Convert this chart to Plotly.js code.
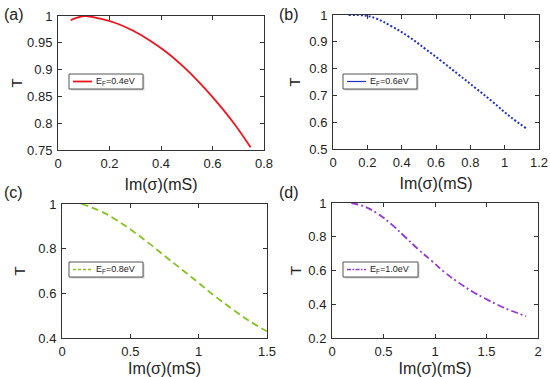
<!DOCTYPE html>
<html>
<head>
<meta charset="utf-8">
<script src="https://cdn.plot.ly/plotly-3.0.1.min.js"></script>
<style>html,body{margin:0;padding:0;background:#fff;}#chart{width:550px;height:377px;}</style>
</head>
<body>
<div id="chart"></div>
<script>
// ---- data ----
const aX = [0.049, 0.075, 0.105, 0.164, 0.229, 0.294, 0.358, 0.423, 0.488, 0.553, 0.618, 0.683, 0.748];
const aY = [0.992, 0.997, 1.000, 0.995, 0.986, 0.972, 0.954, 0.932, 0.905, 0.874, 0.839, 0.800, 0.755];

const bX = [0.091, 0.189, 0.247, 0.344, 0.441, 0.539, 0.636, 0.733, 0.831, 0.928, 1.025, 1.128];
const bY = [1.000, 0.9975, 0.988, 0.957, 0.919, 0.873, 0.826, 0.777, 0.727, 0.677, 0.624, 0.576];

const cX = [0.142, 0.264, 0.386, 0.508, 0.630, 0.752, 0.874, 0.997, 1.119, 1.241, 1.363, 1.500];
const cY = [1.000, 0.973, 0.933, 0.883, 0.827, 0.767, 0.708, 0.648, 0.587, 0.532, 0.479, 0.430];

const dX = [0.188, 0.318, 0.448, 0.578, 0.708, 0.838, 0.968, 1.097, 1.227, 1.357, 1.487, 1.617, 1.747, 1.886];
const dY = [1.000, 0.978, 0.935, 0.873, 0.800, 0.725, 0.657, 0.588, 0.529, 0.477, 0.434, 0.394, 0.360, 0.329];

const seriesNames = ["E<sub>F</sub>=0.4eV", "E<sub>F</sub>=0.6eV", "E<sub>F</sub>=0.8eV", "E<sub>F</sub>=1.0eV"];
const panelLabels = ["(a)", "(b)", "(c)", "(d)"];
const xTitle = "Im(σ)(mS)";
const yTitle = "T";

// ---- styling ----
const W = 550, H = 377;
const FONT = "Liberation Sans, Arial, sans-serif";
const colors = ["#f0141e", "#1f2fc4", "#84c21e", "#9236e0"];
const dashes = ["solid", "2px,2px", "7px,4px", "7px,3px,2px,3px"];
const widths = [1.8, 2, 1.8, 1.8];
const legendDashes = ["solid", "solid", "3px,2px", "4px,1.5px,1.5px,1.5px"];
const legendWidths = [1.8, 1.2, 1.6, 1.6];

const px = v => v / W;
const py = v => 1 - v / H;

// plot boxes in pixels [left, right, top, bottom]
const boxes = [
  [58, 264, 16, 150],
  [333, 539, 15, 149],
  [62, 267, 204, 338],
  [332, 538, 203, 338]
];
const xRanges = [[0, 0.8], [0, 1.2], [0, 1.5], [0, 2]];
const yRanges = [[0.75, 1], [0.5, 1], [0.4, 1], [0.2, 1]];
const xDtick = [0.2, 0.2, 0.5, 0.5];
const yDtick = [0.05, 0.1, 0.2, 0.2];
const yStandoff = [0, 5, 9, 3];
const legendBoxes = [
  [69, 143, 74, 89],
  [343, 417, 74, 89],
  [69, 143, 262, 277],
  [343, 418, 262, 277]
];

const xs = [aX, bX, cX, dX];
const ys = [aY, bY, cY, dY];

const traces = [];
const layout = {
  width: W, height: H,
  margin: {l: 0, r: 0, t: 0, b: 0},
  paper_bgcolor: "#fff", plot_bgcolor: "#fff",
  showlegend: false,
  font: {family: FONT, size: 13, color: "#222"},
  shapes: [], annotations: []
};

for (let i = 0; i < 4; i++) {
  const s = i === 0 ? "" : String(i + 1);
  traces.push({
    type: "scatter", mode: "lines",
    x: xs[i], y: ys[i],
    xaxis: "x" + s, yaxis: "y" + s,
    name: seriesNames[i],
    line: {color: colors[i], width: widths[i], dash: dashes[i], shape: "spline", smoothing: 1.2},
    hoverinfo: "skip"
  });
  const b = boxes[i];
  const axCommon = {
    showgrid: false, zeroline: false,
    showline: true, linecolor: "#333", linewidth: 1, mirror: "allticks",
    ticks: "inside", ticklen: 4, tickcolor: "#333",
    tickfont: {family: FONT, size: 13, color: "#222"}
  };
  layout["xaxis" + s] = Object.assign({}, axCommon, {
    domain: [px(b[0]), px(b[1])],
    anchor: "y" + s,
    range: xRanges[i], dtick: xDtick[i], tick0: 0,
    ticklabelstandoff: 1,
    title: {text: xTitle, font: {family: FONT, size: 16, color: "#222"}, standoff: 9}
  });
  layout["yaxis" + s] = Object.assign({}, axCommon, {
    domain: [py(b[3]), py(b[2])],
    anchor: "x" + s,
    range: yRanges[i], dtick: yDtick[i], tick0: 0,
    ticklabelstandoff: 2,
    title: {text: yTitle, font: {family: FONT, size: 15, color: "#222"}, standoff: yStandoff[i]}
  });

  // panel label
  layout.annotations.push({
    xref: "paper", yref: "paper",
    x: px(i % 2 === 0 ? 2 : 277), y: py(i < 2 ? 15 : 192),
    xanchor: "left", yanchor: "middle", showarrow: false,
    text: panelLabels[i], font: {family: FONT, size: 16, color: "#222"}
  });

  // custom legend box
  const lb = legendBoxes[i];
  layout.shapes.push({
    type: "rect", xref: "paper", yref: "paper", layer: "above",
    x0: px(lb[0] + 1.5), x1: px(lb[1] + 1.5), y0: py(lb[3] + 1.5), y1: py(lb[2] + 1.5),
    line: {width: 0}, fillcolor: "#cfcfcf"
  });
  layout.shapes.push({
    type: "rect", xref: "paper", yref: "paper", layer: "above",
    x0: px(lb[0]), x1: px(lb[1]), y0: py(lb[3]), y1: py(lb[2]),
    line: {color: "#555", width: 1}, fillcolor: "#fff"
  });
  const cy = (lb[2] + lb[3]) / 2;
  layout.shapes.push({
    type: "line", xref: "paper", yref: "paper", layer: "above",
    x0: px(lb[0] + 4), x1: px(lb[0] + 23), y0: py(cy), y1: py(cy),
    line: {color: colors[i], width: legendWidths[i], dash: legendDashes[i]}
  });
  layout.annotations.push({
    xref: "paper", yref: "paper",
    x: px(lb[0] + 25), y: py(cy),
    xanchor: "left", yanchor: "middle", showarrow: false,
    text: seriesNames[i], font: {family: FONT, size: 9, color: "#222"}
  });
}

Plotly.newPlot("chart", traces, layout, {staticPlot: true, displayModeBar: false});
</script>
</body>
</html>
